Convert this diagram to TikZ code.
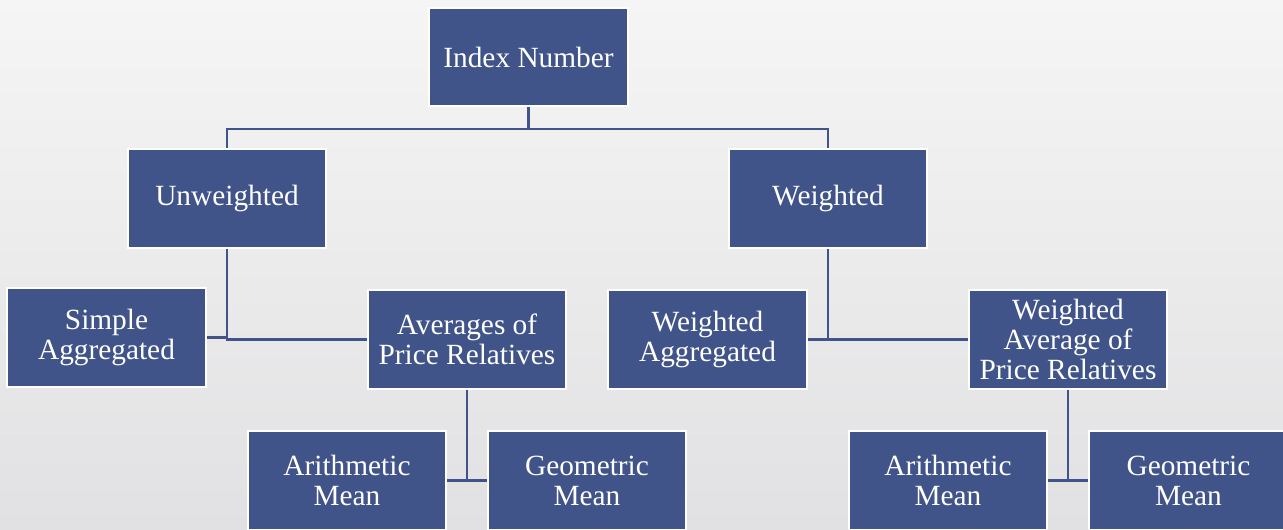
\documentclass[tikz,border=0pt]{standalone}
\usepackage{fontspec}
\setmainfont{Liberation Serif}
\usepackage{tikz}
\usetikzlibrary{positioning}
\definecolor{boxblue}{HTML}{41548A}
\definecolor{bgtop}{HTML}{F5F5F5}
\definecolor{bgbot}{HTML}{E1E1E3}

\begin{document}
\begin{tikzpicture}[
    x=0.75pt, y=-0.75pt,
    box/.style={rectangle, draw=white, line width=1.5pt, fill=boxblue,
                minimum width=149pt, minimum height=74pt, inner sep=2pt,
                align=center, text=white,
                font=\fontsize{22}{22.5}\selectfont},
    conn/.style={draw=boxblue, line width=1.6pt},
]
  \useasboundingbox (0,0) rectangle (1283,529);
  \shade[top color=bgtop, bottom color=bgbot] (0,0) rectangle (1283,529);

  \node[box] (idx)  at (528.5, 57.0)  {Index Number};

  \node[box] (unw)  at (227.0, 198.5) {Unweighted};
  \node[box] (wgt)  at (828.0, 198.5) {Weighted};

  \node[box] (simp) at (106.5, 337.5) {Simple\\Aggregated};
  \node[box] (avg)  at (467.0, 339.5) {Averages of\\Price Relatives};
  \node[box] (wagg) at (707.5, 339.5) {Weighted\\Aggregated};
  \node[box] (wavg) at (1068.0, 339.5) {Weighted\\Average of\\Price Relatives};

  \node[box] (am1)  at (347.0, 480.5) {Arithmetic\\Mean};
  \node[box] (gm1)  at (587.0, 480.5) {Geometric\\Mean};
  \node[box] (am2)  at (948.0, 480.5) {Arithmetic\\Mean};
  \node[box] (gm2)  at (1188.5, 480.5) {Geometric\\Mean};

  % connectors
  \draw[conn] (idx.south) -- ++(0,22) -| (unw.north);
  \draw[conn] (idx.south) -- ++(0,22) -| (wgt.north);

  \draw[conn] (unw.south) |- (simp.east);
  \draw[conn] (unw.south) |- (avg.west);
  \draw[conn] (wgt.south) |- (wagg.east);
  \draw[conn] (wgt.south) |- (wavg.west);

  \draw[conn] (avg.south) |- (am1.east);
  \draw[conn] (avg.south) |- (gm1.west);
  \draw[conn] (wavg.south) |- (am2.east);
  \draw[conn] (wavg.south) |- (gm2.west);

\end{tikzpicture}
\end{document}
